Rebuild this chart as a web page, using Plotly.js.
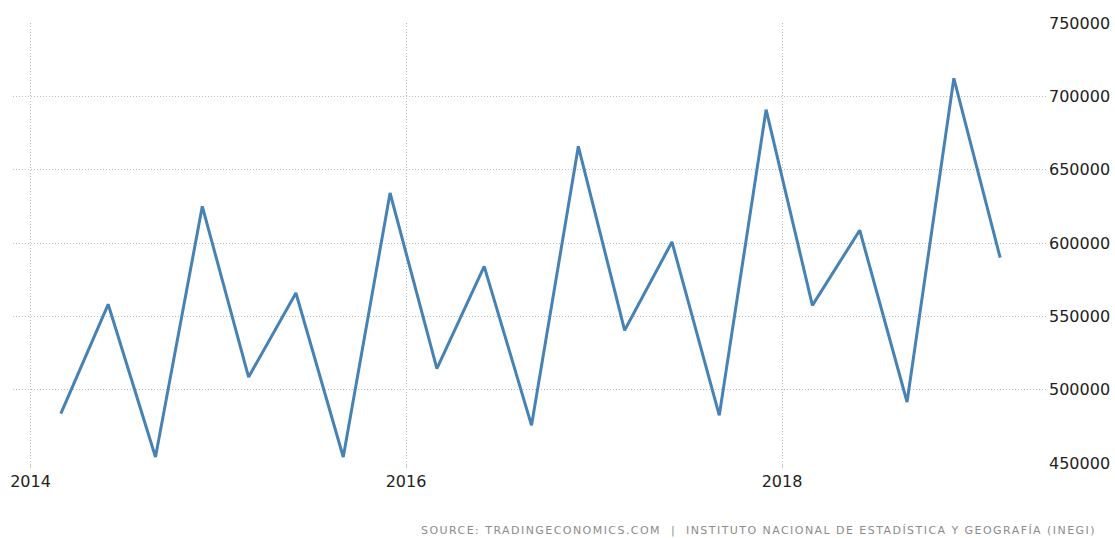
<!DOCTYPE html>
<html>
<head>
<meta charset="utf-8">
<script src="https://cdn.plot.ly/plotly-3.0.1.min.js"></script>
<style>
  html, body { margin: 0; padding: 0; background: #fff; }
  #chart { width: 1115px; height: 538px; }
  .annotation-text { letter-spacing: 1.45px; }
</style>
</head>
<body>
<div id="chart"></div>
<script>
const dates = [
  "2014-03-01", "2014-06-01", "2014-09-01", "2014-12-01",
  "2015-03-01", "2015-06-01", "2015-09-01", "2015-12-01",
  "2016-03-01", "2016-06-01", "2016-09-01", "2016-12-01",
  "2017-03-01", "2017-06-01", "2017-09-01", "2017-12-01",
  "2018-03-01", "2018-06-01", "2018-09-01", "2018-12-01",
  "2019-03-01"
];
const values = [
  483700, 558200, 454100, 625000,
  508600, 565900, 454100, 634100,
  514400, 584100, 475700, 665900,
  540500, 600700, 482500, 690900,
  557500, 608700, 491600, 712300,
  590000
];
const xTickVals = ["2014-01-01", "2016-01-01", "2018-01-01"];
const xTickText = ["2014", "2016", "2018"];
const yTickVals = [450000, 500000, 550000, 600000, 650000, 700000, 750000];
const sourceText = "SOURCE: TRADINGECONOMICS.COM  |  INSTITUTO NACIONAL DE ESTADÍSTICA Y GEOGRAFÍA (INEGI)";

const trace = {
  x: dates,
  y: values,
  type: "scatter",
  mode: "lines",
  line: { color: "rgb(70,130,180)", width: 3 },
  hoverinfo: "x+y"
};

const layout = {
  width: 1115,
  height: 538,
  margin: { l: 13, r: 67, t: 23, b: 75 },
  paper_bgcolor: "#ffffff",
  plot_bgcolor: "#ffffff",
  showlegend: false,
  font: { family: "DejaVu Sans, Verdana, sans-serif", size: 16, color: "#222" },
  xaxis: {
    type: "date",
    range: ["2013-11-28", "2019-06-02"],
    tickmode: "array",
    tickvals: xTickVals,
    ticktext: xTickText,
    showgrid: true,
    gridcolor: "#bdbdbd",
    griddash: "1px,2px",
    gridwidth: 1,
    zeroline: false,
    showline: false,
    ticks: "outside",
    ticklen: 4,
    tickcolor: "#c8c8c8",
    tickfont: { family: "DejaVu Sans, Verdana, sans-serif", size: 16, color: "#222" }
  },
  yaxis: {
    side: "right",
    range: [450000, 750000],
    tickmode: "array",
    tickvals: yTickVals,
    showgrid: true,
    gridcolor: "#bdbdbd",
    griddash: "1px,2px",
    gridwidth: 1,
    zeroline: false,
    showline: false,
    ticks: "",
    tickformat: "d",
    tickfont: { family: "DejaVu Sans, Verdana, sans-serif", size: 16, color: "#222" }
  },
  annotations: [{
    xref: "paper", yref: "paper",
    x: 0.72, y: -0.153,
    xanchor: "center", yanchor: "middle",
    text: sourceText,
    showarrow: false,
    font: { family: "DejaVu Sans, Verdana, sans-serif", size: 11, color: "#8c8c8c" }
  }]
};

Plotly.newPlot("chart", [trace], layout, { displayModeBar: false, staticPlot: true });
</script>
</body>
</html>
